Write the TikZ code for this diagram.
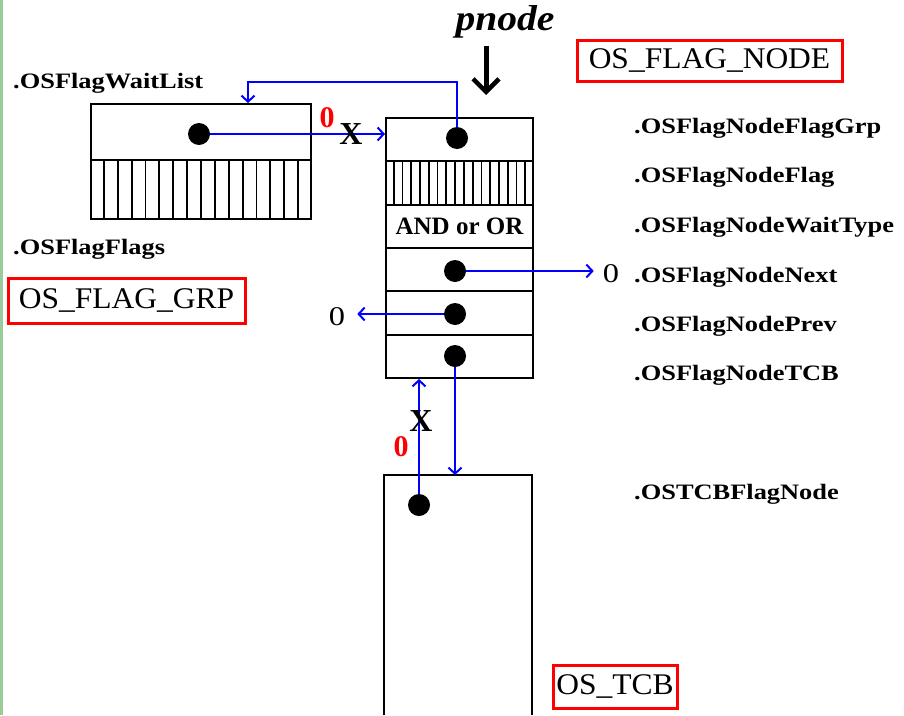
\documentclass[tikz,border=0pt]{standalone}
\usepackage{fontspec}
\setmainfont{Liberation Serif}
\newfontfamily\lblfont[FakeStretch=1.2]{Liberation Serif}
\newfontfamily\boxfont[FakeStretch=1.05]{Liberation Serif}
\newfontfamily\pfont[FakeStretch=1.1]{Liberation Serif}
\usetikzlibrary{arrows.meta,calc}
\definecolor{stripgreen}{RGB}{153,204,153}
\begin{document}
\begin{tikzpicture}[x=1pt,y=-1pt,
  cell/.style={draw, line width=2pt, inner sep=0pt, anchor=north west},
  hatchline/.style={line width=1.8pt},
  dot/.style={circle, fill=black, inner sep=0pt, minimum size=22pt},
  ptr/.style={draw=blue, line width=2pt, -{Straight Barb[length=6pt,width=13pt]}},
  fld/.style={font=\lblfont\bfseries\fontsize{22}{24}\selectfont, anchor=base west, inner sep=0pt},
  tag/.style={draw=red, line width=3pt, inner sep=0pt, font=\boxfont\fontsize{30}{32}\selectfont},
  nil/.style={font=\lblfont\fontsize{27}{29}\selectfont, inner sep=0pt},
  rednil/.style={font=\bfseries\fontsize{30}{32}\selectfont, text=red, inner sep=0pt},
  cut/.style={font=\bfseries\fontsize{32}{34}\selectfont, inner sep=0pt}]
\useasboundingbox (0,0) rectangle (904,715);
\fill[stripgreen] (0,0) rectangle (3,715);

% OS_FLAG_GRP structure
\node[cell, minimum width=220pt, minimum height=56pt] (gtop) at (90,103) {};
\node[cell, minimum width=220pt, minimum height=59pt] (gflags) at (90,159) {};
\foreach \i in {1,...,15}
  \draw[hatchline] ($(gflags.south west)!\i/16!(gflags.south east)$) -- ($(gflags.north west)!\i/16!(gflags.north east)$);

% OS_FLAG_NODE structure
\node[cell, minimum width=147pt, minimum height=43.33pt] (n1) at (385,117) {};
\node[cell, minimum width=147pt, minimum height=43.33pt] (n2) at (385,160.33) {};
\node[cell, minimum width=147pt, minimum height=43.33pt, font=\bfseries\fontsize{25}{27}\selectfont] (n3) at (385,203.67) {AND or OR};
\node[cell, minimum width=147pt, minimum height=43.33pt] (n4) at (385,247) {};
\node[cell, minimum width=147pt, minimum height=43.33pt] (n5) at (385,290.33) {};
\node[cell, minimum width=147pt, minimum height=43.33pt] (n6) at (385,333.67) {};
\foreach \i in {1,...,16}
  \draw[hatchline] ($(n2.south west)!\i/17!(n2.south east)$) -- ($(n2.north west)!\i/17!(n2.north east)$);

% OS_TCB structure
\node[minimum width=148pt, minimum height=240pt, anchor=north west, inner sep=0pt] (tcb) at (384,475) {};
\draw[line width=2pt] (tcb.south west) -- (tcb.north west) -- (tcb.north east) -- (tcb.south east);

% dots
\node[dot] (d1) at (199,134) {};
\node[dot] (d2) at (457,138) {};
\node[dot] (d3) at (455,271) {};
\node[dot] (d4) at (455,314) {};
\node[dot] (d5) at (455,356) {};
\node[dot] (d6) at (419,505) {};

% null values
\node[nil] (z1) at (611,274) {0};
\node[nil] (z2) at (337,317) {0};
\node[rednil] (r1) at (327,118) {0};
\node[rednil] (r2) at (401,447) {0};

% pointers
\coordinate (c1) at (248,82);
\draw[ptr] (d1.east) -- (d1.east -| n1.west);
\draw[ptr] (d2.north) |- (c1) -- (c1 |- gtop.north);
\draw[ptr, shorten >=9pt] (d3.east) -- (d3.east -| z1.west);
\draw[ptr, shorten >=12pt] (d4.west) -- (d4.west -| z2.east);
\draw[ptr] (d5.south) -- (d5.south |- tcb.north);
\draw[ptr] (d6.north) -- (d6.north |- n6.south);

\node[cut] (x1) at (351,134) {X};
\node[cut] (x2) at (421,421) {X};

% pnode
\node[font=\pfont\bfseries\itshape\fontsize{36}{38}\selectfont, inner sep=0pt] (pn) at (505,22) {pnode};
\coordinate (pa) at (486,46);
\coordinate (pb) at (486,95);
\draw[line width=5pt, -{Straight Barb[length=13pt,width=26pt,line width=4.5pt]}] (pa) -- (pb);

% field labels
\node[fld] (lwait) at (13,88) {.OSFlagWaitList};
\node[fld] (lflags) at (13,254) {.OSFlagFlags};
\node[fld] (l1) at (634,133) {.OSFlagNodeFlagGrp};
\node[fld] (l2) at (634,182) {.OSFlagNodeFlag};
\node[fld] (l3) at (634,232) {.OSFlagNodeWaitType};
\node[fld] (l4) at (634,282) {.OSFlagNodeNext};
\node[fld] (l5) at (634,331) {.OSFlagNodePrev};
\node[fld] (l6) at (634,380) {.OSFlagNodeTCB};
\node[fld] (l7) at (634,499) {.OSTCBFlagNode};

% type tags
\node[tag, minimum width=265pt, minimum height=41pt] (tnode) at (709.5,60.5) {OS\_FLAG\_NODE};
\node[tag, minimum width=237pt, minimum height=45pt] (tgrp) at (126.5,300.5) {OS\_FLAG\_GRP};
\node[tag, minimum width=124pt, minimum height=43pt] (ttcb) at (615,686.5) {OS\_TCB};
\end{tikzpicture}
\end{document}
